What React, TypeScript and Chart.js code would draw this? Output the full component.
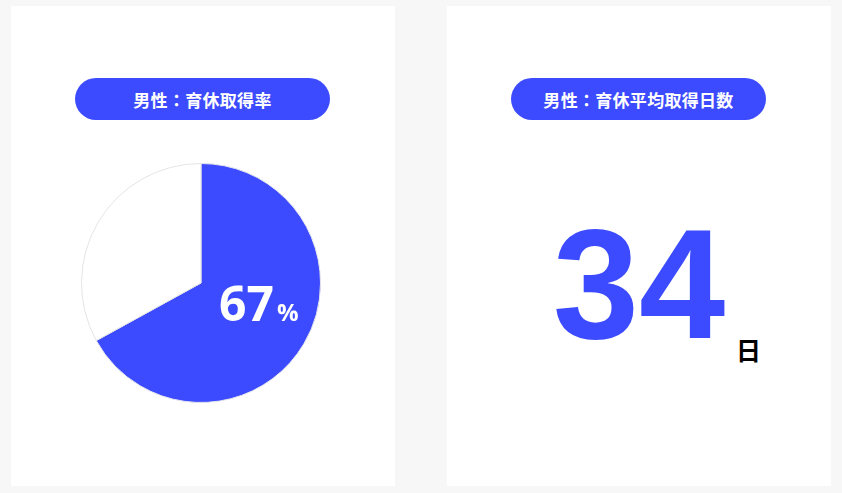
import React, { useEffect, useRef } from "react";
import { Chart, registerables } from "chart.js";

Chart.register(...registerables);

const categories = ["取得", "未取得"];
const rateValues = [67, 33];
const rateUnit = "%";
const daysValue = 34;
const daysUnit = "日";
const titles = ["男性：育休取得率", "男性：育休平均取得日数"];

const BLUE = "#3c4bff";

const centerLabel = {
  id: "centerLabel",
  afterDraw(chart: any) {
    const ctx = chart.ctx;
    const meta = chart.getDatasetMeta(0);
    const arc = meta.data[0];
    const cx = arc.x;
    const cy = arc.y;
    const v = String(chart.data.datasets[0].data[0]);
    ctx.save();
    ctx.fillStyle = "#ffffff";
    ctx.textBaseline = "alphabetic";
    ctx.textAlign = "left";
    ctx.font = "700 48px 'Open Sans', 'Noto Sans', sans-serif";
    const x0 = cx + 18;
    const y0 = cy + 38;
    ctx.fillText(v, x0, y0);
    const w = ctx.measureText(v).width;
    ctx.font = "700 24px 'Open Sans', 'Noto Sans', sans-serif";
    ctx.fillText(rateUnit, x0 + w + 3, y0);
    ctx.restore();
  },
};

function PieCard() {
  const ref = useRef<HTMLCanvasElement | null>(null);
  useEffect(() => {
    if (!ref.current) return;
    const chart = new Chart(ref.current, {
      type: "pie",
      data: {
        labels: categories,
        datasets: [
          {
            data: rateValues,
            backgroundColor: [BLUE, "#ffffff"],
            borderColor: ["#e4e4ec", "#e4e4e4"],
            borderWidth: 1,
          },
        ],
      },
      options: {
        animation: false,
        responsive: false,
        maintainAspectRatio: false,
        layout: { padding: 0 },
        plugins: {
          legend: { display: false },
          tooltip: { enabled: false },
        },
      },
      plugins: [centerLabel],
    });
    return () => chart.destroy();
  }, []);
  return (
    <canvas
      ref={ref}
      width={240}
      height={240}
      style={{ position: "absolute", left: 81, top: 163, width: 240, height: 240 }}
    />
  );
}

const pillStyle = (left: number): React.CSSProperties => ({
  position: "absolute",
  left,
  top: 78,
  width: 255,
  height: 42,
  borderRadius: 21,
  background: BLUE,
  color: "#ffffff",
  fontFamily: "'Noto Sans CJK JP', sans-serif",
  fontWeight: 700,
  fontSize: 17,
  letterSpacing: 0.3,
  display: "flex",
  alignItems: "center",
  justifyContent: "center",
});

const cardStyle = (left: number): React.CSSProperties => ({
  position: "absolute",
  left,
  top: 6,
  width: 384,
  height: 480,
  background: "#ffffff",
});

export default function App() {
  useEffect(() => {
    document.body.style.margin = "0";
  }, []);
  return (
    <div
      style={{
        position: "fixed",
        left: 0,
        top: 0,
        width: 842,
        height: 493,
        background: "#f7f7f7",
        overflow: "hidden",
      }}
    >
      <div style={cardStyle(11)} />
      <div style={cardStyle(447)} />
      <div style={pillStyle(75)}>{titles[0]}</div>
      <div style={pillStyle(511)}>{titles[1]}</div>
      <PieCard />
      <div
        style={{
          position: "absolute",
          left: 447,
          width: 384,
          top: 207,
          textAlign: "center",
          fontFamily: "'Liberation Sans', Arial, sans-serif",
          fontWeight: 700,
          fontSize: 155,
          lineHeight: "155px",
          color: BLUE,
        }}
      >
        {daysValue}
      </div>
      <div
        style={{
          position: "absolute",
          left: 736,
          top: 337,
          fontFamily: "'Noto Sans CJK JP', sans-serif",
          fontWeight: 700,
          fontSize: 25,
          lineHeight: "25px",
          color: "#000000",
        }}
      >
        {daysUnit}
      </div>
    </div>
  );
}
